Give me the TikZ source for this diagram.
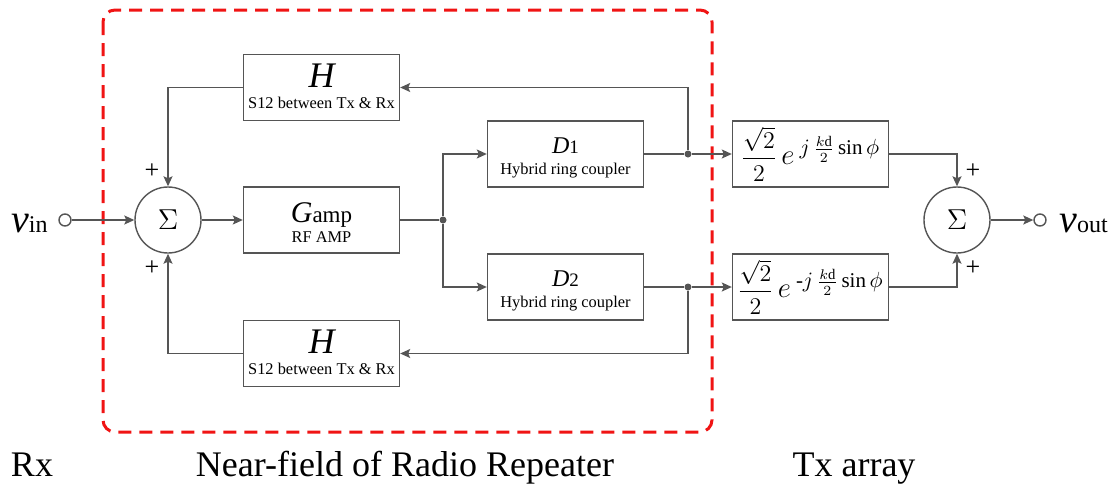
\documentclass[tikz,border=0pt]{standalone}
\usepackage{amsmath}
\usepackage{fontspec}
\setmainfont{Liberation Serif}
\usetikzlibrary{arrows.meta}

\definecolor{gris}{HTML}{555555}
\definecolor{rojo}{HTML}{F01414}
\newcommand{\ftam}[1]{\fontsize{#1}{#1}\selectfont}
\newcommand{\fase}[1]{\smash{\mbox{\ftam{10.5}$#1j\,\frac{k\mathrm{d}}{2}\,\mathrm{sin}\,\phi$}}}

\tikzset{
  bloque/.style={draw=gris, line width=0.7pt, minimum width=78pt, minimum height=33pt, inner sep=0pt},
  suma/.style={draw=gris, circle, line width=0.7pt, minimum size=33pt, inner sep=0pt},
  borne/.style={draw=gris, circle, line width=0.7pt, minimum size=6pt, inner sep=0pt, fill=white},
  punto/.style={circle, fill=gris, minimum size=3.5pt, inner sep=0pt},
  cable/.style={draw=gris, line width=0.7pt},
  flecha/.style={cable, -{Stealth[length=5pt, width=4.5pt, inset=1pt]}},
  texto/.style={inner sep=0pt, anchor=base},
  sub/.style={texto, font=\ftam{8.2}},
}

\begin{document}
\begin{tikzpicture}[x=0.5pt, y=-0.5pt]
  \useasboundingbox (0,0) rectangle (1115,483);

  % Zona de campo cercano
  \draw[rojo, line width=1.5pt, dash pattern=on 6.5pt off 4pt, rounded corners=6pt]
    (103,10) rectangle (712,432);

  % Bloques
  \node[bloque] (Ha) at (321.5,87.5) {};
  \node[bloque] (G)  at (321.5,220) {};
  \node[bloque] (Hb) at (321.5,353.5) {};
  \node[bloque] (D1) at (565.5,154) {};
  \node[bloque] (D2) at (565.5,287) {};
  \node[bloque, font=\ftam{13}] (T1) at (810.5,154)
    {$\displaystyle\frac{\sqrt{2}}{2}\,\mbox{\ftam{15}$e$}^{\;\fase{}}$};
  \node[bloque, font=\ftam{13}] (T2) at (810.5,287)
    {$\displaystyle\frac{\sqrt{2}}{2}\,\mbox{\ftam{15}$e$}^{\;\fase{\text{-}}}$};

  % Textos de los bloques
  \node[texto, font=\ftam{18}\itshape] (HaT) at (Ha.center) {H};
  \node[sub] (HaS) at ([yshift=-10.25pt]Ha.center) {S12 between Tx \& Rx};
  \node[texto] (GT) at ([yshift=-1pt]G.center) {{\ftam{15}\itshape G}{\ftam{11.5}amp}};
  \node[sub] (GS) at ([yshift=-11pt]G.center) {RF AMP};
  \node[texto, font=\ftam{18}\itshape] (HbT) at (Hb.center) {H};
  \node[sub] (HbS) at ([yshift=-10.25pt]Hb.center) {S12 between Tx \& Rx};
  \node[texto] (D1T) at ([yshift=0.5pt]D1.center) {{\ftam{12}\itshape D}{\ftam{9.5}1}};
  \node[sub] (D1S) at ([yshift=-10pt]D1.center) {Hybrid ring coupler};
  \node[texto] (D2T) at ([yshift=0.5pt]D2.center) {{\ftam{12}\itshape D}{\ftam{9.5}2}};
  \node[sub] (D2S) at ([yshift=-10pt]D2.center) {Hybrid ring coupler};

  % Sumadores y bornes
  \node[suma, font=\ftam{15}] (sL) at (168,220) {$\Sigma$};
  \node[suma, font=\ftam{15}] (sR) at (957,220) {$\Sigma$};
  \node[borne] (bin)  at (65,220) {};
  \node[borne] (bout) at (1040,220) {};
  \node[texto, anchor=base east] (vin) at (48,232) {{\ftam{20}\itshape v}{\ftam{12}in}};
  \node[texto, anchor=base west] (vout) at (1059,232) {{\ftam{20}\itshape v}{\ftam{12}out}};

  % Signos
  \node[font=\ftam{13}, inner sep=0pt] (p1) at (152,171) {+};
  \node[font=\ftam{13}, inner sep=0pt] (p2) at (152,268) {+};
  \node[font=\ftam{13}, inner sep=0pt] (p3) at (973,171) {+};
  \node[font=\ftam{13}, inner sep=0pt] (p4) at (973,268) {+};

  % Nodos de union
  \node[punto] (jA) at (443,220) {};
  \node[punto] (j1) at (688,154) {};
  \node[punto] (j2) at (688,287) {};

  % Conexiones
  \draw[flecha] (bin) -- (sL);
  \draw[flecha] (sL) -- (G);
  \draw[cable] (G) -- (jA);
  \draw[flecha] (jA) |- (D1);
  \draw[flecha] (jA) |- (D2);
  \draw[cable] (D1) -- (j1);
  \draw[cable] (D2) -- (j2);
  \draw[flecha] (j1) -- (T1);
  \draw[flecha] (j2) -- (T2);
  \draw[flecha] (j1) |- (Ha);
  \draw[flecha] (j2) |- (Hb);
  \draw[flecha] (Ha) -| (sL);
  \draw[flecha] (Hb) -| (sL);
  \draw[flecha] (T1) -| (sR);
  \draw[flecha] (T2) -| (sR);
  \draw[flecha] (sR) -- (bout);

  % Etiquetas inferiores
  \node[texto, font=\ftam{18}] (rx) at (32,476) {Rx};
  \node[texto, font=\ftam{18}] (nf) at (405,476) {Near-field of Radio Repeater};
  \node[texto, font=\ftam{18}] (tx) at (854,476) {Tx array};
\end{tikzpicture}
\end{document}
